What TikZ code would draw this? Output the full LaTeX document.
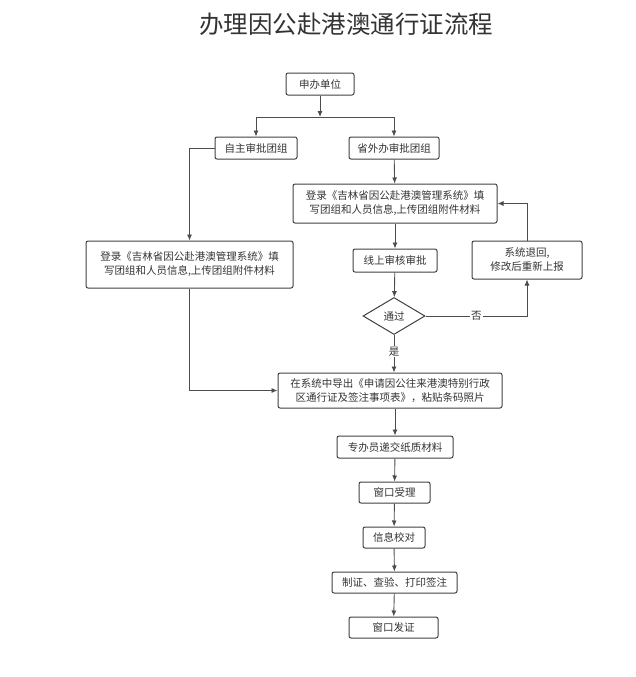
\documentclass[tikz,border=0pt]{standalone}
\usepackage{fontspec}
\setmainfont{Noto Sans CJK SC}
\usetikzlibrary{shapes.geometric,arrows.meta}
\tikzset{box/.style={draw=black!75,line width=1pt,rounded corners=2pt,inner sep=0pt,align=center,text=black!80,font=\fontsize{10.5}{14}\selectfont},
yesno/.style={fill=white,inner sep=1pt,text=black!80,font=\fontsize{10.5}{12}\selectfont}}
\begin{document}
\begin{tikzpicture}[x=1pt,y=-1pt,>={Latex[length=6pt,width=5pt]},line width=0.9pt,draw=black!70]
\useasboundingbox (0,0) rectangle (635,677);
\node[text=black!80,font=\fontsize{24.5}{27}\selectfont] (title) at (346,24) {办理因公赴港澳通行证流程};
\node[box,minimum width=68,minimum height=22] (apply) at (320,84) {申办单位};
\node[box,minimum width=82,minimum height=22] (self) at (256,148) {自主审批团组};
\node[box,minimum width=90,minimum height=22] (prov) at (394,148) {省外办审批团组};
\node[box,minimum width=207,minimum height=47] (loginL) at (189.5,264.5) {登录《吉林省因公赴港澳管理系统》填\\写团组和人员信息,上传团组附件材料};
\node[box,minimum width=204,minimum height=39] (loginR) at (395,203.5) {登录《吉林省因公赴港澳管理系统》填\\写团组和人员信息,上传团组附件材料};
\node[box,minimum width=84,minimum height=23] (online) at (395,260.5) {线上审核审批};
\node[box,minimum width=110,minimum height=38] (back) at (527,260) {系统退回,\\修改后重新上报};
\node[draw=black!75,line width=1pt,diamond,aspect=1.7,minimum width=62,minimum height=37,inner sep=0pt,text=black!80,font=\fontsize{10.5}{12}\selectfont] (pass) at (394,316) {通过};
\node[box,minimum width=224,minimum height=35] (export) at (390,390.5) {在系统中导出《申请因公往来港澳特别行政\\区通行证及签注事项表》，粘贴条码照片};
\node[box,minimum width=116,minimum height=22] (submit) at (395,447) {专办员递交纸质材料};
\node[box,minimum width=71,minimum height=21] (accept) at (394.5,492.5) {窗口受理};
\node[box,minimum width=62,minimum height=21] (check) at (394,537.5) {信息校对};
\node[box,minimum width=125,minimum height=21] (make) at (394.5,582.5) {制证、查验、打印签注};
\node[box,minimum width=89,minimum height=21] (issue) at (393.5,627.5) {窗口发证};
\coordinate (split) at (320,117);
\draw[->] (apply)--(split);
\draw[->] (split)-|(self);
\draw[->] (split)-|(prov);
\draw[->] (self.west)-|(loginL.north);
\draw[->] (prov)--(loginR);
\draw[->] (loginR)--(online);
\draw[->] (online)--(pass);
\draw[->] (pass.east)-|node[yesno,pos=0.25]{否}(back.south);
\draw[->] (back.north)|-(loginR.east);
\draw[->] (pass.south)--node[yesno,pos=0.45]{是}(export.north-|pass.south);
\draw[->] (loginL.south)|-(export.west);
\draw[->] (export.south-|submit.north)--(submit);
\draw[->] (submit)--(accept);
\draw[->] (accept)--(check);
\draw[->] (check)--(make);
\draw[->] (make)--(issue);
\end{tikzpicture}
\end{document}
